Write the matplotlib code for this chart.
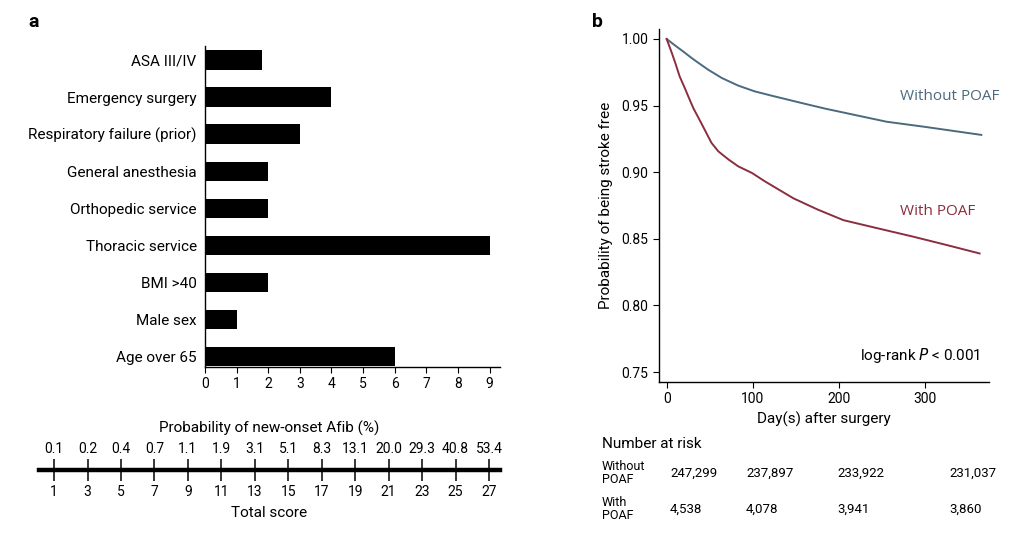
import matplotlib.pyplot as plt
import numpy as np

plt.rcParams['font.family'] = ['Roboto', 'DejaVu Sans']
plt.rcParams['axes.linewidth'] = 1.0

# panel a: score points per risk factor
factors = ["Age over 65", "Male sex", "BMI >40", "Thoracic service",
           "Orthopedic service", "General anesthesia",
           "Respiratory failure (prior)", "Emergency surgery", "ASA III/IV"]
points = [6, 1, 2, 9, 2, 2, 3, 4, 1.8]

# nomogram
score_ticks = [1, 3, 5, 7, 9, 11, 13, 15, 17, 19, 21, 23, 25, 27]
prob_labels = ["0.1", "0.2", "0.4", "0.7", "1.1", "1.9", "3.1", "5.1",
               "8.3", "13.1", "20.0", "29.3", "40.8", "53.4"]

# panel b: Kaplan-Meier curves
days_without = [0, 10, 19, 29, 37, 48, 64, 83, 102, 122, 141, 160, 184,
                255, 300, 365]
surv_without = [1.0, 0.995, 0.9907, 0.9857, 0.982, 0.977, 0.9707, 0.965,
                0.9607, 0.9574, 0.9544, 0.9514, 0.9477, 0.9379, 0.934, 0.928]
days_with = [0, 6, 10, 15, 21, 25, 31, 37, 44, 52, 60, 72, 83, 99, 114,
             147, 175, 205, 244, 286, 325, 363]
surv_with = [1.0, 0.9895, 0.982, 0.972, 0.9632, 0.957, 0.948, 0.9407,
             0.932, 0.922, 0.9156, 0.9094, 0.9044, 0.8994, 0.8931, 0.8804,
             0.872, 0.864, 0.858, 0.8516, 0.8453, 0.839]

# number at risk
risk_without = [247299, 237897, 233922, 231037]
risk_with = [4538, 4078, 3941, 3860]

c_without = "#4b6a7e"
c_with = "#8b2e3e"

fig = plt.figure(figsize=(10.24, 5.37), dpi=100)

# ---- panel a bars
ax = fig.add_axes([205/1024, 1-367/537, 295/1024, 321/537])
y = np.arange(len(factors))
ax.barh(y, points, height=0.52, color="black")
ax.set_yticks(y)
ax.set_yticklabels(factors, fontsize=11)
ax.set_xticks(range(10))
ax.set_xlim(0, 9.33)
ax.set_ylim(-0.29, 8.38)
ax.spines[['top', 'right']].set_visible(False)
ax.tick_params(axis='y', length=0, pad=6)
ax.tick_params(axis='x', length=4, labelsize=10, pad=3)

# ---- nomogram
axn = fig.add_axes([39/1024, 1-470/537, 461/1024, 0.0001])
axn.set_xlim(0.1, 27.66)
axn.set_yticks([])
for s in ['top', 'left', 'right']:
    axn.spines[s].set_visible(False)
axn.spines['bottom'].set_linewidth(3.2)
axn.set_xticks(score_ticks)
axn.tick_params(axis='x', direction='inout', length=16, width=1.1,
                labelsize=10, pad=3)
axn.set_xlabel("Total score", fontsize=11, labelpad=5)
ax2 = axn.twiny()
ax2.set_xlim(axn.get_xlim())
ax2.set_xticks(score_ticks)
ax2.set_xticklabels(prob_labels)
ax2.tick_params(axis='x', length=0, labelsize=10, pad=10)
for s in ax2.spines.values():
    s.set_visible(False)
ax2.set_xlabel("Probability of new-onset Afib (%)", fontsize=11, labelpad=7)

# ---- panel b KM curves
axb = fig.add_axes([659/1024, 1-382/537, 330/1024, 353/537])
axb.plot(days_without, surv_without, color=c_without, lw=1.4)
axb.plot(days_with, surv_with, color=c_with, lw=1.4)
axb.set_xlim(-8.9, 373.9)
axb.set_ylim(0.7425, 1.0075)
axb.set_xticks([0, 100, 200, 300])
axb.set_yticks([0.75, 0.80, 0.85, 0.90, 0.95, 1.00])
axb.set_yticklabels(["0.75", "0.80", "0.85", "0.90", "0.95", "1.00"])
axb.spines[['top', 'right']].set_visible(False)
axb.tick_params(length=4, labelsize=10)
axb.set_xlabel("Day(s) after surgery", fontsize=11, labelpad=4)
axb.set_ylabel("Probability of being stroke free", fontsize=11, labelpad=6)
axb.text(0.73, 0.81, "Without POAF", transform=axb.transAxes, color=c_without,
         fontsize=11, ha='left', va='center', family=['Open Sans', 'DejaVu Sans'])
axb.text(0.73, 0.482, "With POAF", transform=axb.transAxes, color=c_with,
         fontsize=11, ha='left', va='center', family=['Open Sans', 'DejaVu Sans'])
axb.text(0.973, 0.074, "log-rank $P$ < 0.001", transform=axb.transAxes,
         fontsize=11, ha='right', va='center')

# number at risk table
col_x = [670/1024, 746/1024, 837/1024, 949/1024]
fig.text(602/1024, 1-444/537, "Number at risk", fontsize=11, va='center')
fig.text(602/1024, 1-473/537, "Without\nPOAF", fontsize=9, va='center',
         linespacing=0.95)
fig.text(602/1024, 1-509/537, "With\nPOAF", fontsize=9, va='center',
         linespacing=0.95)
for x, n1, n2 in zip(col_x, risk_without, risk_with):
    fig.text(x, 1-473/537, f"{n1:,}", fontsize=9.5, va='center')
    fig.text(x, 1-509/537, f"{n2:,}", fontsize=9.5, va='center')

# panel letters
fig.text(28/1024, 1-22/537, "a", fontsize=14, fontweight='bold', va='center')
fig.text(592/1024, 1-22/537, "b", fontsize=14, fontweight='bold', va='center')

fig.savefig("out.png", dpi=100)
